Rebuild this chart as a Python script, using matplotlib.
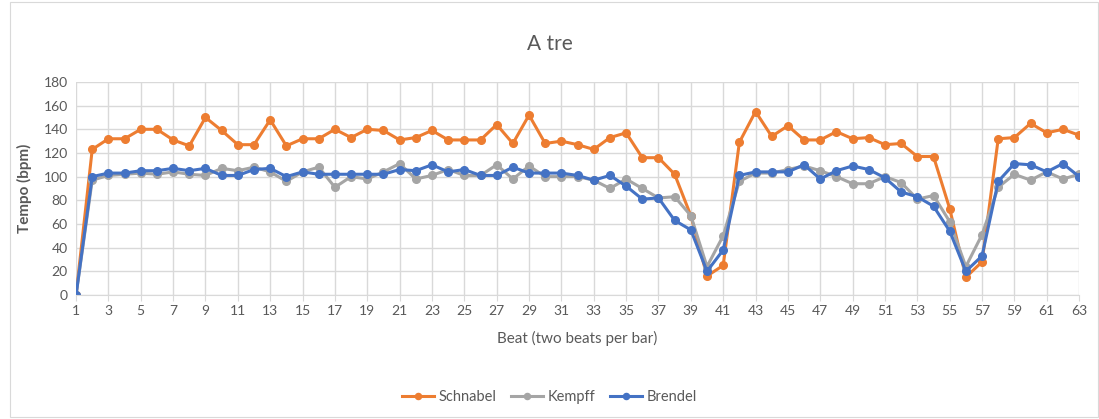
import matplotlib
matplotlib.use("Agg")
import matplotlib.pyplot as plt
from matplotlib.patches import Rectangle

plt.rcParams['font.family'] = ['Lato', 'DejaVu Sans']

beats = list(range(1, 64))

schnabel = [0, 123, 132, 132, 140, 140, 131, 126, 150, 139,
            127, 127, 148, 126, 132, 132, 140, 133, 140, 139,
            131, 133, 139, 131, 131, 131, 144, 128, 152, 128,
            130, 127, 123, 133, 137, 116, 116, 102, 67, 16,
            25, 129, 155, 134, 143, 131, 131, 138, 132, 133,
            127, 128, 117, 117, 73, 15, 28, 132, 133, 145,
            137, 140, 135]

kempff = [0, 97, 101, 102, 103, 102, 104, 102, 101, 107,
          105, 108, 104, 96, 104, 108, 91, 100, 98, 104,
          111, 98, 101, 106, 101, 101, 110, 98, 109, 100,
          100, 100, 97, 90, 98, 90, 82, 83, 67, 24,
          50, 96, 103, 103, 106, 109, 105, 100, 94, 94,
          100, 95, 81, 84, 62, 24, 51, 91, 102, 97,
          104, 98, 102]

brendel = [0, 100, 103, 103, 105, 105, 107, 105, 107, 101,
           101, 106, 107, 100, 104, 102, 102, 102, 102, 102,
           106, 105, 110, 104, 106, 101, 101, 108, 103, 103,
           103, 101, 97, 101, 92, 81, 82, 63, 55, 20,
           38, 101, 104, 104, 104, 110, 98, 105, 109, 106,
           99, 87, 83, 75, 54, 20, 33, 96, 111, 110,
           104, 111, 100]

series = [("Schnabel", schnabel, "#ED7D31"),
          ("Kempff", kempff, "#A5A5A5"),
          ("Brendel", brendel, "#4472C4")]

fig = plt.figure(figsize=(10.99, 4.19), dpi=100)
fig.patches.append(Rectangle((0.009, 0.005), 0.99, 0.99, transform=fig.transFigure,
                             fill=False, edgecolor="#D9D9D9", linewidth=0.8))
ax = fig.add_axes([0.0692, 0.296, 0.9127, 0.5084])

for name, vals, col in series:
    ax.plot(beats, vals, color=col, linewidth=2.2, marker="o", markersize=5.5,
            label=name)

ax.set_xlim(1, 63)
ax.set_ylim(0, 180)
ax.set_yticks(range(0, 181, 20))
ax.set_xticks(beats[::2])
ax.grid(True, color="#D9D9D9", linewidth=1)
ax.set_axisbelow(True)
for s in ["top", "right", "left"]:
    ax.spines[s].set_visible(False)
ax.spines["bottom"].set_color("#D9D9D9")
ax.tick_params(axis="y", length=0, labelsize=10, colors="#595959", pad=6)
ax.tick_params(axis="x", length=4, color="#D9D9D9", labelsize=10,
               labelcolor="#595959", pad=3)

fig.text(0.5, 0.895, "A tre", ha="center", va="center", fontsize=15, color="#595959")
ax.set_ylabel("Tempo (bpm)", fontsize=11, fontweight="bold", color="#595959",
              labelpad=8)
ax.set_xlabel("Beat (two beats per bar)", fontsize=11, color="#595959", labelpad=10)

fig.legend(loc="center", bbox_to_anchor=(0.5, 0.052), ncol=3, frameon=False,
           fontsize=10.5, labelcolor="#595959", handlelength=2.2, handletextpad=0.3,
           columnspacing=1.0, markerscale=0.8)

fig.savefig("out.png", dpi=100)
